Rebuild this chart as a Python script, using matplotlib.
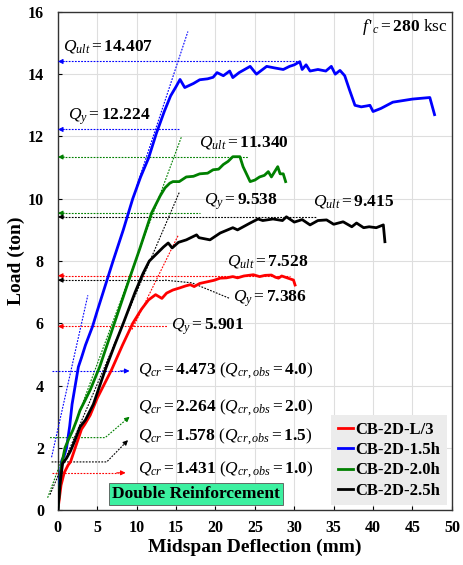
import matplotlib
matplotlib.use('Agg')
import matplotlib.pyplot as plt

plt.rcParams['font.family'] = ['Liberation Serif', 'DejaVu Serif']
plt.rcParams['mathtext.fontset'] = 'custom'
plt.rcParams['mathtext.rm'] = 'Liberation Serif'
plt.rcParams['mathtext.it'] = 'Liberation Serif:italic'
plt.rcParams['mathtext.bf'] = 'Liberation Serif:bold'

# load-deflection curves (mm, ton)
red_x = [0, 0.4, 0.8, 1.3, 1.6, 2.2, 3.0, 3.4, 4.1, 5.0, 6.8, 8.2, 9.5, 10.6, 11.5, 12.4,
         13.2, 13.8, 14.6, 15.5, 16.2, 16.8, 17.3, 18.0, 18.9, 19.8, 20.6, 21.4, 22.2, 22.8,
         23.6, 24.8, 25.6, 26.3, 27.1, 27.6, 28.0, 28.4, 29.2, 29.9, 30.1]
red_y = [0, 0.8, 1.2, 1.45, 1.55, 2.0, 2.6, 2.75, 3.05, 3.6, 4.5, 5.3, 6.0, 6.45, 6.75, 6.92,
         6.8, 6.97, 7.07, 7.14, 7.2, 7.24, 7.18, 7.28, 7.33, 7.38, 7.45, 7.46, 7.5, 7.46,
         7.52, 7.56, 7.5, 7.54, 7.55, 7.48, 7.45, 7.52, 7.45, 7.39, 7.23]

blue_x = [0, 0.2, 0.5, 0.8, 1.1, 1.5, 1.8, 2.2, 2.6, 3.0, 3.5, 4.4, 5.0, 6.0, 7.0, 8.3,
          9.5, 10.5, 11.5, 12.5, 13.5, 14.3, 15.0, 15.5, 16.1, 17.2, 18.0, 19.0, 19.7, 20.2,
          21.0, 21.8, 22.2, 23.0, 24.4, 25.2, 26.5, 27.5, 28.6, 29.4, 30.0, 30.7, 31.0, 31.5,
          32.0, 33.0, 34.0, 34.7, 35.2, 35.8, 36.4, 37.0, 37.7, 38.5, 39.2, 39.6, 40.0, 41.0,
          42.5, 45.0, 47.2, 47.8]
blue_y = [0, 0.9, 1.6, 1.75, 2.0, 2.7, 3.4, 4.0, 4.6, 4.9, 5.3, 5.9, 6.4, 7.2, 8.0, 9.0,
          10.0, 10.7, 11.3, 12.1, 12.8, 13.3, 13.6, 13.83, 13.57, 13.7, 13.82, 13.85, 13.9, 14.05,
          13.95, 14.1, 13.89, 14.05, 14.25, 14.0, 14.25, 14.2, 14.15, 14.25, 14.3, 14.4, 14.15, 14.3,
          14.1, 14.15, 14.1, 14.25, 14.0, 14.12, 13.95, 13.5, 13.0, 12.95, 12.98, 13.0, 12.8, 12.9,
          13.1, 13.2, 13.25, 12.7]

green_x = [0, 0.3, 0.5, 0.9, 1.4, 1.9, 2.4, 2.8, 3.4, 4.1, 5.3, 7.3, 8.9, 10.4, 11.9, 13.0,
           13.6, 14.2, 14.6, 15.4, 16.3, 17.2, 18.0, 19.0, 19.7, 20.4, 21.0, 21.6, 22.2, 23.1,
           23.5, 24.4, 25.0, 25.6, 26.2, 26.7, 27.1, 27.9, 28.2, 28.6, 28.9]
green_y = [0, 1.0, 1.5, 2.0, 2.3, 2.57, 2.9, 3.2, 3.5, 3.86, 4.6, 6.1, 7.3, 8.4, 9.55, 10.1,
           10.35, 10.5, 10.55, 10.55, 10.7, 10.72, 10.8, 10.82, 10.93, 10.95, 11.1, 11.2, 11.35, 11.35,
           11.03, 10.55, 10.6, 10.7, 10.75, 10.87, 10.7, 11.03, 10.8, 10.8, 10.55]

black_x = [0, 0.3, 0.6, 1.1, 1.6, 2.1, 2.8, 3.5, 4.5, 6.0, 7.2, 8.3, 9.8, 10.8, 11.6, 12.6,
           13.4, 14.0, 14.5, 15.3, 16.3, 17.6, 17.9, 19.3, 20.6, 22.2, 22.8, 24.4, 25.4, 26.0,
           27.3, 28.5, 29.0, 30.0, 31.0, 32.0, 33.0, 34.1, 35.0, 36.2, 37.3, 37.9, 38.8, 39.5,
           40.4, 41.3, 41.5]
black_y = [0, 0.9, 1.5, 1.67, 1.9, 2.2, 2.67, 2.9, 3.4, 4.5, 5.3, 6.0, 7.0, 7.6, 8.0, 8.25,
           8.45, 8.58, 8.42, 8.6, 8.68, 8.84, 8.75, 8.68, 8.9, 9.07, 9.0, 9.22, 9.35, 9.3,
           9.35, 9.3, 9.42, 9.25, 9.33, 9.16, 9.3, 9.32, 9.18, 9.26, 9.1, 9.22, 9.07, 9.1,
           9.07, 9.16, 8.62]

labels = ['CB-2D-L/3', 'CB-2D-1.5h', 'CB-2D-2.0h', 'CB-2D-2.5h']
colors = ['red', 'blue', 'green', 'black']

# stiffness / tangent lines (x pairs, y pairs)
tangents = [
    ([-0.8, 3.8], [1.7, 6.9], 'blue'),
    ([10.0, 16.5], [10.4, 15.37], 'blue'),
    ([-1.3, 15.7], [0.4, 12.0], 'green'),
    ([-1.0, 15.4], [0.5, 10.2], 'black'),
    ([9.4, 15.3], [5.8, 8.84], 'red'),
]

# characteristic loads: value, colour, where the dotted leader stops, label position
q_marks = [
    (14.407, 'blue', 30.3, r'$Q_{ult}=\mathbf{14.407}$', 0.6, 14.9),
    (12.224, 'blue', 15.5, r'$Q_{y}=\mathbf{12.224}$', 1.3, 12.65),
    (11.340, 'green', 24.1, r'$Q_{ult}=\mathbf{11.340}$', 17.9, 11.8),
    (9.538, 'green', 18.0, r'$Q_{y}=\mathbf{9.538}$', 18.5, 9.9),
    (9.415, 'black', 32.8, r'$Q_{ult}=\mathbf{9.415}$', 32.4, 9.9),
    (7.528, 'red', 29.4, r'$Q_{ult}=\mathbf{7.528}$', 21.4, 8.0),
    (7.386, 'black', 13.6, r'$Q_{y}=\mathbf{7.386}$', 22.2, 6.8),
    (5.901, 'red', 13.8, r'$Q_{y}=\mathbf{5.901}$', 14.4, 5.9),
]

cr_text = [r'$Q_{cr}=\mathbf{4.473}\ (Q_{cr,obs}=\mathbf{4.0})$',
           r'$Q_{cr}=\mathbf{2.264}\ (Q_{cr,obs}=\mathbf{2.0})$',
           r'$Q_{cr}=\mathbf{1.578}\ (Q_{cr,obs}=\mathbf{1.5})$',
           r'$Q_{cr}=\mathbf{1.431}\ (Q_{cr,obs}=\mathbf{1.0})$']
cr_text_y = [4.47, 3.3, 2.35, 1.29]
# cracking-load leaders (polyline points), last point gets the arrow head
cr_paths = [
    ([-0.8, 9.1], [4.47, 4.47], 'blue'),
    ([-1.0, 6.0, 9.1], [2.33, 2.33, 3.0], 'green'),
    ([-0.8, 6.2, 8.9], [1.55, 1.55, 2.25], 'black'),
    ([-0.8, 8.6], [1.2, 1.2], 'red'),
]

dots = (0, (1.6, 1.2))

fig = plt.figure(figsize=(4.63, 5.65), dpi=100)
ax = fig.add_axes([0.125, 0.097, 0.851, 0.882])

ax.grid(True, color='#dedede', linewidth=0.8)
ax.set_axisbelow(True)

curves = [(red_x, red_y), (blue_x, blue_y), (green_x, green_y), (black_x, black_y)]
for (cx, cy), c, lab in zip(curves, colors, labels):
    ax.plot(cx, cy, color=c, linewidth=2.0, label=lab, zorder=4)

for tx, ty, c in tangents:
    ax.plot(tx, ty, color=c, linestyle=dots, linewidth=0.8, clip_on=False, zorder=3)

arrow_kw = dict(arrowstyle='-|>', lw=0.8, mutation_scale=7, shrinkA=0, shrinkB=0)

for val, c, xend, txt, tx, ty in q_marks:
    ax.plot([0.5, xend], [val, val], color=c, linestyle=dots, linewidth=0.8, zorder=3)
    ax.annotate('', xy=(0, val), xytext=(0.8, val),
                arrowprops=dict(color=c, **arrow_kw), zorder=5)
    ax.text(tx, ty, txt, fontsize=12.5, va='center', ha='left', zorder=6)

# leader from Qy of the 2.5h beam to its label
ax.plot([13.6, 17.0, 21.8], [7.386, 7.3, 6.8], color='black',
        linestyle=dots, linewidth=0.8, zorder=3)

for (px, py, c), txt, ty in zip(cr_paths, cr_text, cr_text_y):
    dx = px[-1] - px[-2]
    dy = py[-1] - py[-2]
    ax.plot(px[:-1] + [px[-1] - 0.1 * dx], py[:-1] + [py[-1] - 0.1 * dy], color=c,
            linestyle=dots, linewidth=0.8, clip_on=False, zorder=3)
    ax.annotate('', xy=(px[-1], py[-1]), xytext=(px[-1] - 0.12 * dx, py[-1] - 0.12 * dy),
                arrowprops=dict(color=c, **arrow_kw), zorder=5)
    ax.text(10.2, ty, txt, fontsize=12.5, va='center', ha='left', zorder=6)

ax.text(49.4, 15.5, r"$f\,'_{c}=\mathbf{280}\ \mathrm{ksc}$", fontsize=12.5,
        ha='right', va='center')

ax.text(17.5, 0.52, 'Double Reinforcement', fontsize=12.5, fontweight='bold',
        ha='center', va='center', zorder=6,
        bbox=dict(boxstyle='square,pad=0.18', facecolor='#3cf0a0', edgecolor='#555555', linewidth=0.6))

leg = ax.legend(loc='lower right', prop={'weight': 'bold', 'size': 12},
                frameon=True, fancybox=False, framealpha=1, facecolor='#ececec',
                edgecolor='none', handlelength=0.9, handletextpad=0.15,
                labelspacing=0.25, borderaxespad=0.3, borderpad=0.4)
for h in leg.get_lines():
    h.set_linewidth(2.0)

ax.set_xlim(0, 50)
ax.set_ylim(0, 16)
ax.set_xticks(range(0, 51, 5))
ax.set_yticks(range(0, 17, 2))
ax.tick_params(direction='in', length=3, labelsize=11.5)
ax.tick_params(axis='x', pad=7)
ax.tick_params(axis='y', pad=10)
for lab in ax.get_xticklabels() + ax.get_yticklabels():
    lab.set_fontweight('bold')
for s in ax.spines.values():
    s.set_color('#333333')
    s.set_linewidth(1.0)

ax.set_xlabel('Midspan Deflection (mm)', fontsize=14, fontweight='bold', labelpad=2)
ax.set_ylabel('Load (ton)', fontsize=14, fontweight='bold', labelpad=2)

fig.savefig('out.png', dpi=100)
